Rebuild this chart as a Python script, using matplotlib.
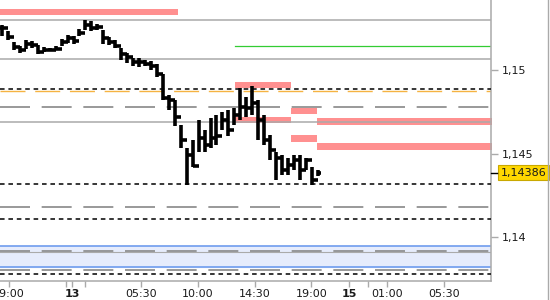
import numpy as np
import matplotlib
matplotlib.use('Agg')
import matplotlib.pyplot as plt

# price bars (hours since 12th 00:00)
bar_close = [1.15252, 1.15198, 1.15138, 1.15120, 1.15156, 1.15150, 1.15108, 1.15120, 1.15120, 1.15126,
             1.15168, 1.15192, 1.15174, 1.15222, 1.15270, 1.15252, 1.15258, 1.15192, 1.15168, 1.15144,
             1.15096, 1.15078, 1.15048, 1.15048, 1.15036, 1.15024, 1.14976, 1.14832, 1.14820, 1.14718,
             1.14581, 1.14491, 1.14425, 1.14593, 1.14551, 1.14593, 1.14605, 1.14701, 1.14641, 1.14730,
             1.14778, 1.14772, 1.14802, 1.14701, 1.14581, 1.14521, 1.14473, 1.14401, 1.14431, 1.14461,
             1.14401, 1.14461, 1.14341, 1.14386]
bar_high = [1.15270, 1.15234, 1.15168, 1.15144, 1.15180, 1.15174, 1.15150, 1.15138, 1.15132, 1.15144,
            1.15186, 1.15210, 1.15204, 1.15246, 1.15300, 1.15294, 1.15276, 1.15240, 1.15198, 1.15180,
            1.15132, 1.15102, 1.15072, 1.15072, 1.15060, 1.15054, 1.15036, 1.14976, 1.14850, 1.14820,
            1.14671, 1.14533, 1.14581, 1.14701, 1.14641, 1.14713, 1.14730, 1.14748, 1.14760, 1.14772,
            1.14892, 1.14838, 1.14904, 1.14820, 1.14730, 1.14611, 1.14509, 1.14491, 1.14473, 1.14491,
            1.14491, 1.14473, 1.14419, 1.14401]
bar_low = [1.15204, 1.15180, 1.15120, 1.15102, 1.15126, 1.15132, 1.15096, 1.15108, 1.15114, 1.15120,
           1.15144, 1.15162, 1.15156, 1.15204, 1.15240, 1.15234, 1.15240, 1.15156, 1.15150, 1.15132,
           1.15060, 1.15042, 1.15024, 1.15018, 1.15024, 1.15000, 1.14958, 1.14820, 1.14760, 1.14665,
           1.14533, 1.14311, 1.14419, 1.14509, 1.14509, 1.14533, 1.14551, 1.14641, 1.14605, 1.14671,
           1.14701, 1.14718, 1.14730, 1.14581, 1.14551, 1.14461, 1.14341, 1.14371, 1.14371, 1.14401,
           1.14341, 1.14401, 1.14311, 1.14365]
bar_start, bar_end = 18.45, 43.5

# horizontal levels
gray_levels = [1.15300, 1.15066, 1.14689]
black_dash_levels = [1.14886, 1.14317, 1.14108, 1.13778]
gray_dash_levels = [1.14778, 1.14180, 1.13916, 1.13802]
orange_level = 1.14872
green_level, green_start = 1.15144, 36.94
blue_band = (1.13820, 1.13946)

# pink zones: (start h, end h, low, high)
zones = [(18.0, 32.4, 1.15330, 1.15366),
         (36.94, 41.38, 1.14892, 1.14928),
         (36.94, 41.38, 1.14683, 1.14719),
         (41.38, 43.45, 1.14737, 1.14772),
         (41.38, 43.45, 1.14569, 1.14611),
         (43.45, 60.0, 1.14671, 1.14713),
         (43.45, 60.0, 1.14521, 1.14563)]

last_price = 1.14386
xticks = [19, 24, 29.5, 34, 38.5, 43, 46, 49, 53.5]
xlabels = ['19:00', '13', '05:30', '10:00', '14:30', '19:00', '15', '01:00', '05:30']
yticks = [1.14, 1.145, 1.15]
ylabels = ['1,14', '1,145', '1,15']

fig = plt.figure(figsize=(5.5, 3), dpi=100)
ax = fig.add_axes([0, 0.0633, 0.8927, 0.9367])
xmin, xmax = 18.286, 57.25
ax.set_xlim(xmin, xmax)
ax.set_ylim(1.137365, 1.154192)

ax.axhspan(blue_band[0], blue_band[1], color='#e6ecfc', zorder=0)
for b in blue_band:
    ax.axhline(b, color='#6495ed', lw=1.1, zorder=1)

for z in zones:
    ax.fill_between([z[0], z[1]], z[2], z[3], color='#ff9090', lw=0, zorder=1)

for g in gray_levels:
    ax.axhline(g, color='#aaaaaa', lw=1.1, zorder=2)
ax.axhline(blue_band[0] + 0.00092, color='#aaaaaa', lw=0.8, zorder=2)
for g in gray_dash_levels:
    ax.axhline(g, color='#888888', lw=1.2, dashes=(18, 7), zorder=2)
ax.axhline(orange_level, color='#f5b342', lw=1.0, dashes=(18, 7), zorder=2)
for g in black_dash_levels:
    ax.axhline(g, color='black', lw=1.1, dashes=(3, 2.5), zorder=3)
ax.plot([green_start, xmax], [green_level, green_level], color='#33cc33', lw=0.9, zorder=2)

# OHLC bars
n = len(bar_close)
t = np.linspace(bar_start, bar_end, n)
w = (t[1] - t[0]) / 2
opens = [bar_close[0]] + bar_close[:-1]
ax.vlines(t, bar_low, bar_high, color='black', lw=2.6, zorder=4)
ax.hlines(opens, t - w, t, color='black', lw=2.6, zorder=4)
ax.hlines(bar_close, t, t + w, color='black', lw=2.6, zorder=4)

for s in ['top', 'left']:
    ax.spines[s].set_visible(False)
for s in ['right', 'bottom']:
    ax.spines[s].set_color('#aaaaaa')
    ax.spines[s].set_linewidth(1.1)

ax.yaxis.tick_right()
ax.set_yticks(yticks)
ax.set_yticklabels(ylabels)
ax.tick_params(axis='y', length=5, width=1, color='#aaaaaa', labelsize=8, labelcolor='#1a1a1a', pad=3)
ax.set_xticks(xticks)
ax.set_xticklabels(xlabels)
ax.set_xticks([23.5, 25, 47.5], minor=True)
ax.tick_params(axis='x', which='both', length=4, width=1, color='#aaaaaa', labelsize=8, labelcolor='#1a1a1a', pad=2)
for lbl in ax.get_xticklabels():
    if lbl.get_text() in ('13', '15'):
        lbl.set_fontweight('bold')

# last price marker
ax.plot([xmax, xmax + 0.5], [last_price, last_price], color='black', lw=1, clip_on=False, zorder=5)
ax.annotate('1,14386', xy=(1, last_price), xycoords=('axes fraction', 'data'),
            xytext=(7, 0), textcoords='offset points', va='center', ha='left', fontsize=8, color='#1a1a1a',
            bbox=dict(boxstyle='square,pad=0.2', fc='#ffd700', ec='#c9a800', lw=0.8), annotation_clip=False)

# outer frame line on the right
fig.add_artist(plt.Line2D([0.9955, 0.9955], [0, 1], color='#aaaaaa', lw=1))

fig.savefig('out.png', dpi=100)
